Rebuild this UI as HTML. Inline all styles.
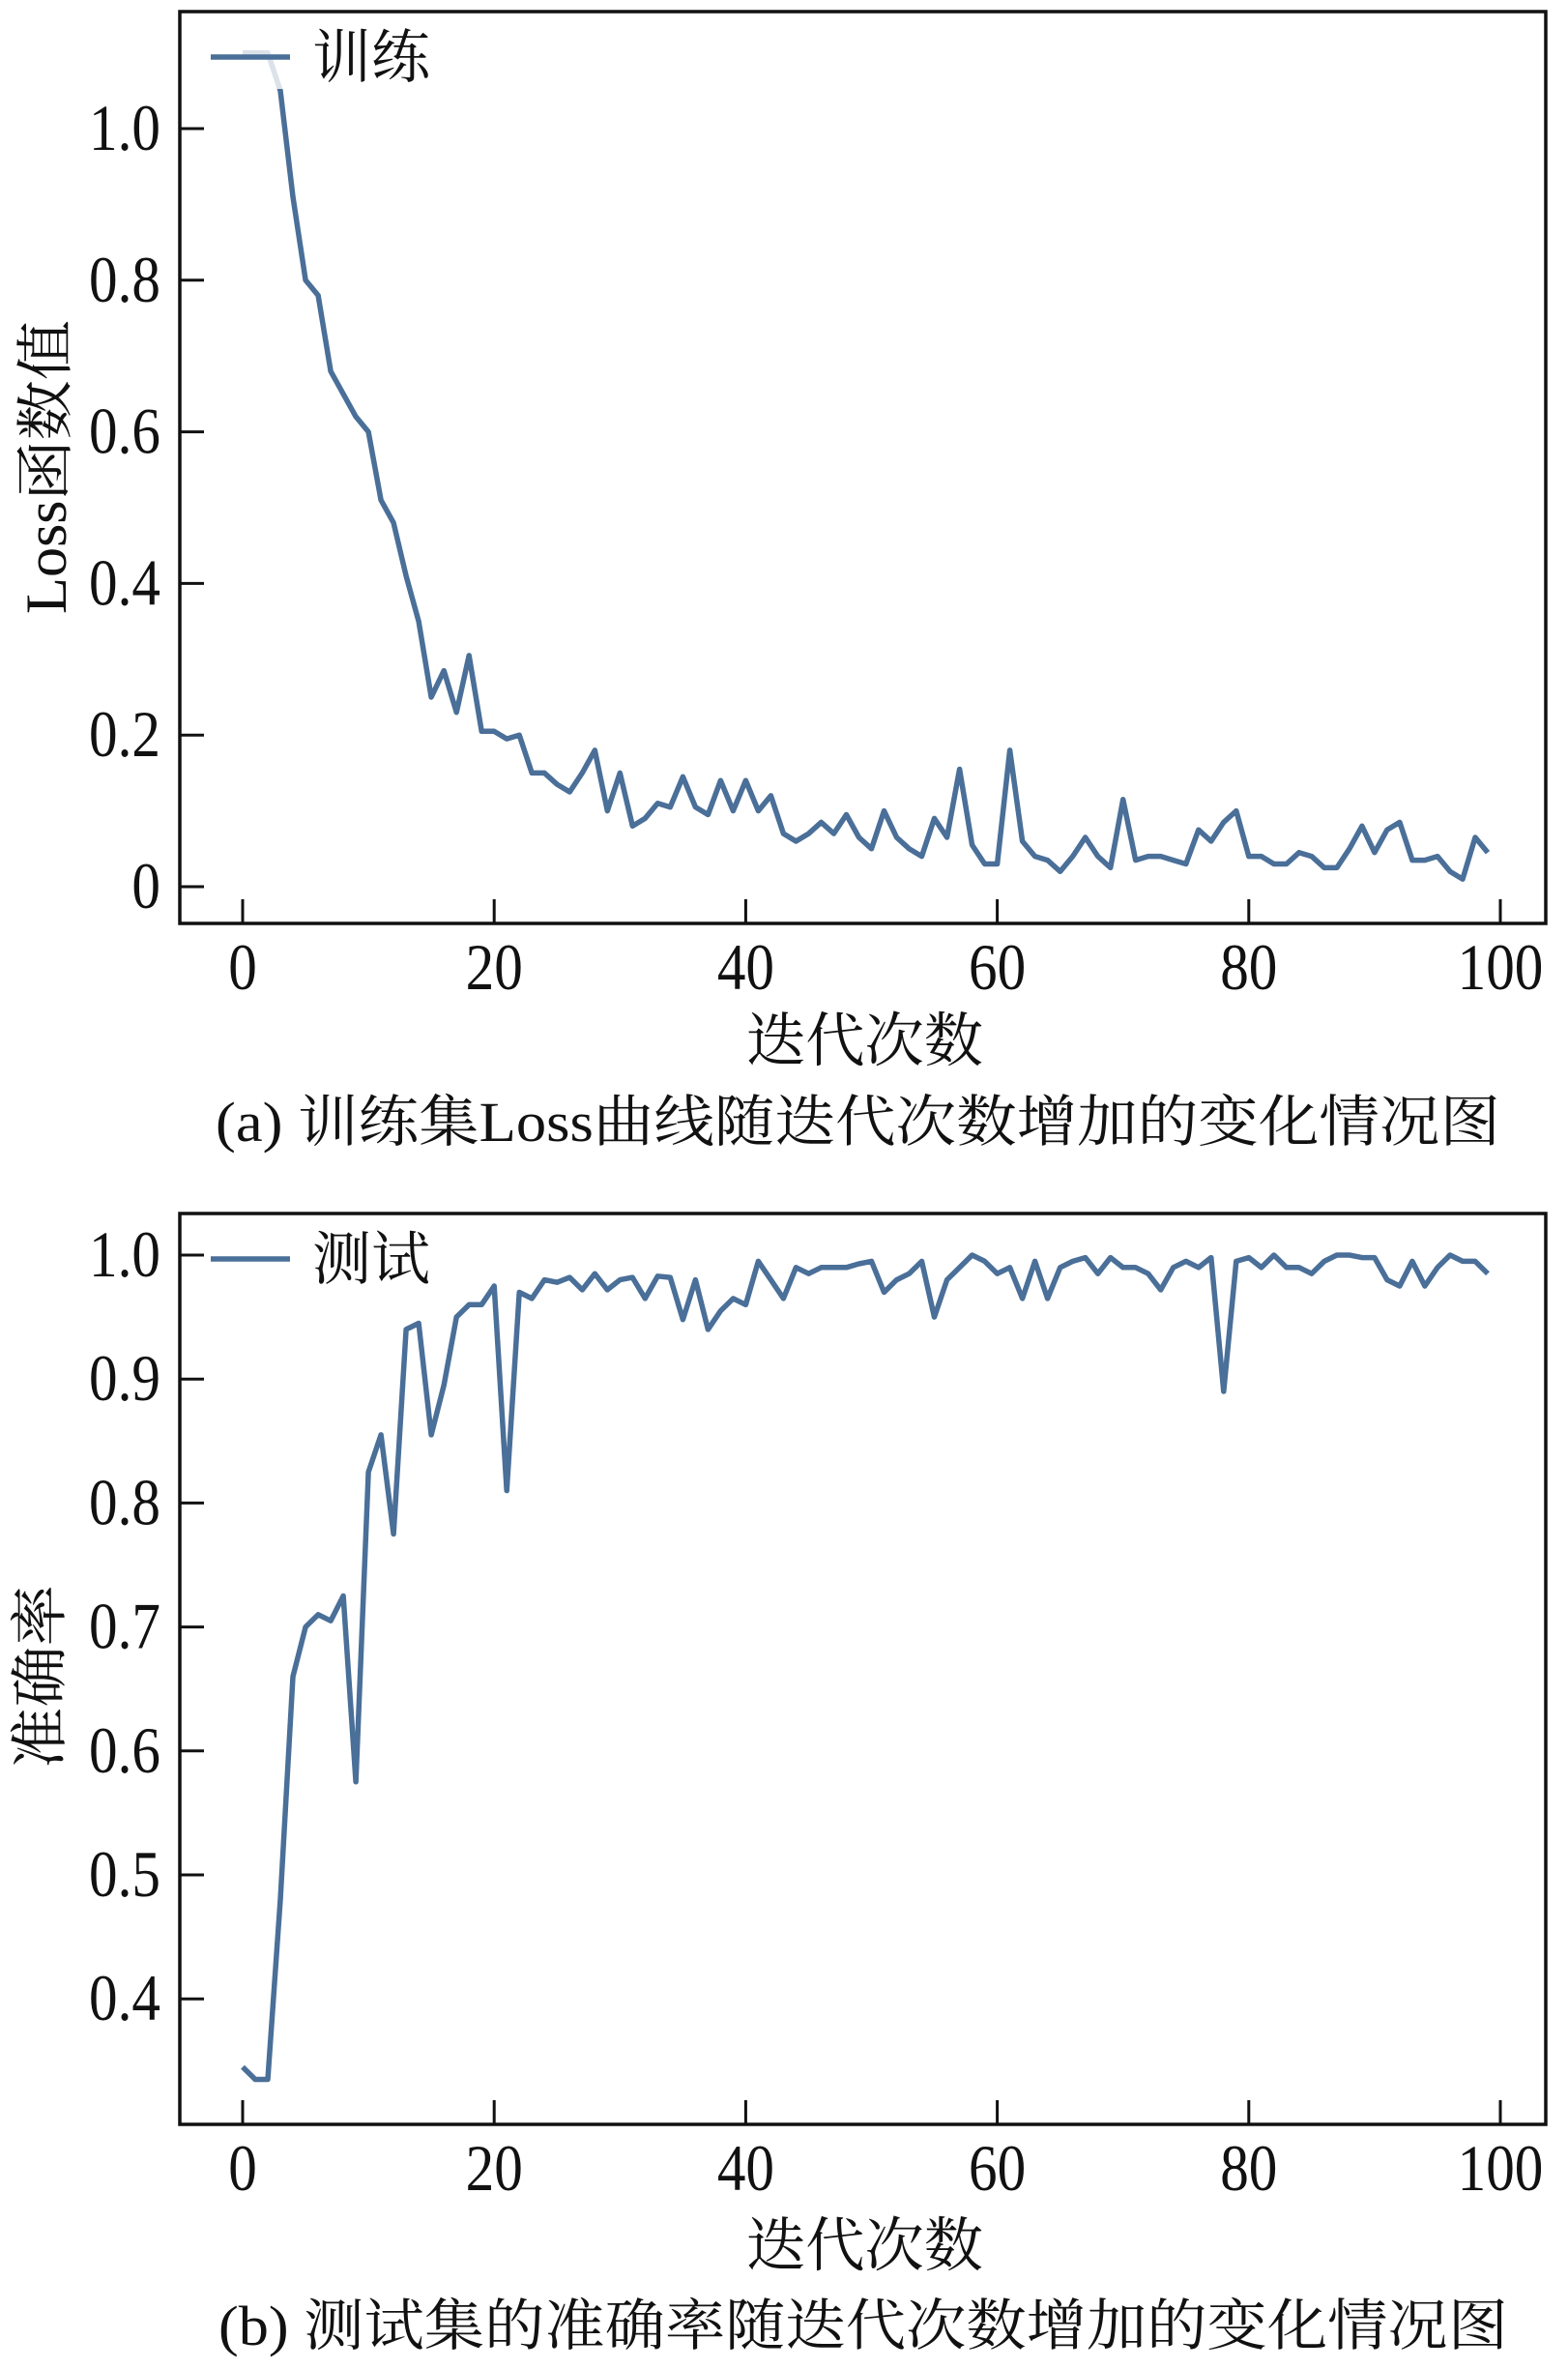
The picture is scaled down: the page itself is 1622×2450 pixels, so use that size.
<!DOCTYPE html>
<html><head><meta charset="utf-8"><style>
html,body{margin:0;padding:0;background:#fff;}
svg{display:block;}
text{font-family:"Liberation Serif","Noto Serif CJK SC",serif;fill:#111;}
</style></head><body>
<svg id="s" width="1622" height="2450" xmlns="http://www.w3.org/2000/svg"></svg>
<script>
const s=document.getElementById('s');
let h='';
const C='#4a6f98';
function xs(v){return 251+(1552-251)*v/100;}
const loss=[1.1,1.1,1.1,1.05,.91,.80,.78,.68,.65,.62,.60,.51,.48,.41,.35,.25,.285,.23,.305,.205,.205,.195,.20,.15,.15,.135,.125,.15,.18,.10,.15,.08,.09,.11,.105,.145,.105,.095,.14,.10,.14,.10,.12,.07,.06,.07,.085,.07,.095,.065,.05,.10,.065,.05,.04,.09,.065,.155,.055,.03,.03,.18,.06,.04,.035,.02,.04,.065,.04,.025,.115,.035,.04,.04,.035,.03,.075,.06,.085,.10,.04,.04,.03,.03,.045,.04,.025,.025,.05,.08,.045,.075,.085,.035,.035,.04,.02,.01,.065,.045];
const acc=[.345,.335,.335,.48,.66,.70,.71,.705,.725,.575,.825,.855,.775,.94,.945,.855,.895,.95,.96,.96,.975,.81,.97,.965,.98,.978,.982,.972,.985,.972,.98,.982,.965,.983,.982,.948,.98,.94,.955,.965,.96,.995,.98,.965,.99,.985,.99,.99,.99,.993,.995,.97,.98,.985,.995,.95,.98,.99,1.0,.995,.985,.99,.965,.995,.965,.99,.995,.998,.985,.998,.99,.99,.985,.972,.99,.995,.99,.998,.89,.995,.998,.99,1.0,.99,.99,.985,.995,1.0,1.0,.998,.998,.98,.975,.995,.975,.99,1.0,.995,.995,.985];
function num(x,y,t,anchor){h+=`<text transform="translate(${x},${y}) scale(0.87,1)" font-size="68" text-anchor="${anchor}">${t}</text>`;}
function plot(top,bot,yfun,yt,data,leg,ylab,ylabY,ylabX,ylabLen,xlabY,cap,capY,capX1,capX2){
  h+=`<rect x="186" y="${top}" width="1413" height="${bot-top}" fill="none" stroke="#111" stroke-width="3.5"/>`;
  for(let v=0;v<=100;v+=20){const x=xs(v);h+=`<line x1="${x}" y1="${bot}" x2="${x}" y2="${bot-25}" stroke="#111" stroke-width="3"/>`;num(x,bot+68,v,'middle');}
  yt.forEach(([v,l])=>{const y=yfun(v);h+=`<line x1="186" y1="${y}" x2="211" y2="${y}" stroke="#111" stroke-width="3"/>`;num(166,y+22,l,'end');});
  h+=`<polyline fill="none" stroke="${C}" stroke-width="5.5" stroke-linejoin="round" points="${data.map((d,i)=>xs(i).toFixed(1)+','+yfun(d).toFixed(1)).join(' ')}"/>`;
  h+=`<rect x="215" y="${top+10}" width="240" height="70" fill="#fff" opacity="0.8"/>`;
  h+=`<line x1="218" y1="${top+47}" x2="300" y2="${top+47}" stroke="${C}" stroke-width="5.5"/>`;
  h+=`<text x="323" y="${top+68}" font-size="60" textLength="122" lengthAdjust="spacingAndGlyphs">${leg}</text>`;
  h+=`<text transform="translate(${ylabX},${ylabY}) rotate(-90)" font-size="60" text-anchor="middle" textLength="${ylabLen}" lengthAdjust="spacingAndGlyphs">${ylab}</text>`;
  h+=`<text x="772" y="${xlabY}" font-size="61" textLength="245" lengthAdjust="spacingAndGlyphs">迭代次数</text>`;
  h+=`<text x="${capX1}" y="${capY}" font-size="58" textLength="${capX2-capX1}" lengthAdjust="spacingAndGlyphs">${cap}</text>`;
}
plot(12,955,v=>917-(917-133)*v,[[0,'0'],[0.2,'0.2'],[0.4,'0.4'],[0.6,'0.6'],[0.8,'0.8'],[1.0,'1.0']],loss,'训练','Loss函数值',483,68,304,1097,'(a) 训练集Loss曲线随迭代次数增加的变化情况图',1180,223,1552);
plot(1255,2197,v=>1298+(1.0-v)*1282,[[0.4,'0.4'],[0.5,'0.5'],[0.6,'0.6'],[0.7,'0.7'],[0.8,'0.8'],[0.9,'0.9'],[1.0,'1.0']],acc,'测试','准确率',1734,62,190,2343,'(b) 测试集的准确率随迭代次数增加的变化情况图',2425,226,1560);
s.innerHTML=h;
</script>
</body></html>
